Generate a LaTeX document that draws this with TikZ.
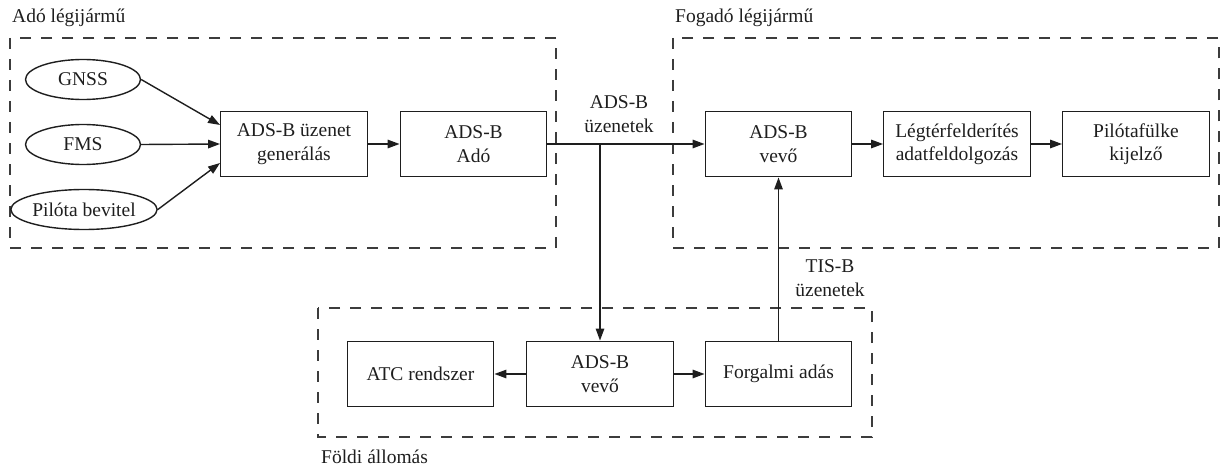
\documentclass[tikz,border=0pt]{standalone}
\usepackage{fontspec}
\setmainfont{Liberation Serif}
\usetikzlibrary{shapes.geometric,arrows.meta,calc}

\definecolor{inkc}{HTML}{1E1E1E}
\definecolor{dashc}{HTML}{3C3C3C}

\begin{document}
\begin{tikzpicture}[x=1pt,y=-1pt,
  every node/.style={font=\fontsize{19.5}{23.5}\selectfont, text=inkc},
  box/.style={draw=inkc, line width=1.4pt, minimum width=146.5pt,
    minimum height=65.5pt, align=center, inner sep=0pt},
  oval/.style={ellipse, draw=inkc, line width=1.4pt, minimum width=115pt,
    minimum height=40pt, inner sep=0pt},
  group/.style={draw=dashc, line width=2pt, dash pattern=on 11pt off 10pt},
  grouplabel/.style={anchor=base west, inner sep=0pt},
  msglabel/.style={align=center, inner sep=0pt},
  arr/.style={draw=inkc, line width=1.4pt, -{Triangle[length=12pt,width=8.5pt]}}]

  \useasboundingbox (0,0) rectangle (1220,468);

  % dashed group frames
  \draw[group] (10,38) rectangle (556,248);
  \draw[group] (673,38) rectangle (1218.5,248);
  \draw[group] (318,308) rectangle (872,437);

  \node[grouplabel] (lsend) at (12,23) {Adó légijármű};
  \node[grouplabel] (lrecv) at (675,23) {Fogadó légijármű};
  \node[grouplabel] (lgnd)  at (321,463) {Földi állomás};

  % transmitting aircraft
  \node[oval] (gnss) at (83,79.5)  {GNSS};
  \node[oval] (fms)  at (83,144.5) {FMS};
  \node[oval] (pil)  at (84,209.5) {Pilóta bevitel};
  \node[box]  (gen)  at (294,144)  {ADS-B üzenet\\generálás};
  \node[box]  (tx)   at (473.5,144) {ADS-B\\Adó};

  % receiving aircraft
  \node[box] (rx)   at (778.5,144) {ADS-B\\vevő};
  \node[box] (proc) at (957,144)   {Légtérfelderítés\\adatfeldolgozás};
  \node[box] (disp) at (1136,144)  {Pilótafülke\\kijelző};

  % ground station
  \node[box] (atc)  at (420.5,374) {ATC rendszer};
  \node[box] (grx)  at (600,374)   {ADS-B\\vevő};
  \node[box] (tis)  at (778.5,374) {Forgalmi adás};

  % message labels
  \node[msglabel] (madsb) at (619,114) {ADS-B\\üzenetek};
  \node[msglabel] (mtis)  at (830,278) {TIS-B\\üzenetek};

  % connectors
  \draw[arr] (gnss.east) -- ($(gen.west)+(0,-19)$);
  \draw[arr] (fms.east)  -- (gen.west);
  \draw[arr] (pil.east)  -- ($(gen.west)+(0,19)$);
  \draw[arr] (gen) -- (tx);
  \draw[arr] (tx) -- (rx);
  \coordinate (split) at (600,144);
  \draw[arr] (split) -- (grx.north);
  \draw[arr] (rx) -- (proc);
  \draw[arr] (proc) -- (disp);
  \draw[arr] (grx) -- (atc);
  \draw[arr] (grx) -- (tis);
  \draw[arr] (tis.north) -- (rx.south);
\end{tikzpicture}
\end{document}
